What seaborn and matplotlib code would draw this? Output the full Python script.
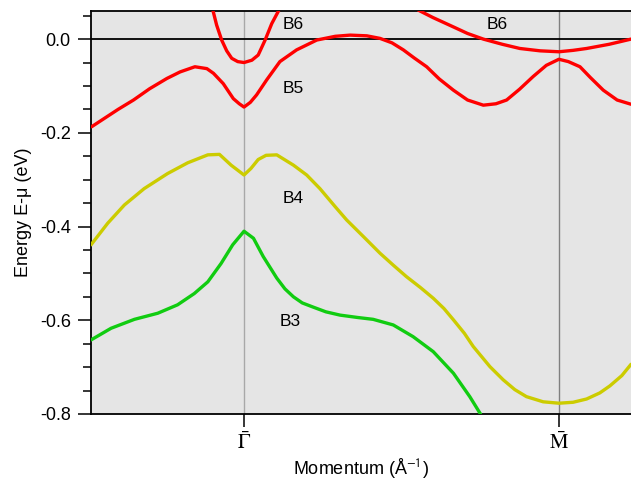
import numpy as np
import pandas as pd
import matplotlib
matplotlib.use("Agg")
import matplotlib.pyplot as plt
import seaborn as sns
from matplotlib.ticker import MultipleLocator

# band energies (k: Gamma=0, M=1)
b6a_k = [-0.099, -0.087, -0.071, -0.055, -0.039, -0.020, 0.0, 0.025, 0.045, 0.067, 0.088, 0.111]
b6a_e = [0.062, 0.030, -0.002, -0.025, -0.041, -0.048, -0.050, -0.045, -0.034, -0.002, 0.033, 0.062]

b6b_k = [0.553, 0.600, 0.665, 0.710, 0.760, 0.820, 0.876, 0.940, 1.0, 1.045, 1.088, 1.160, 1.229]
b6b_e = [0.062, 0.046, 0.026, 0.012, 0.0, -0.011, -0.020, -0.025, -0.027, -0.024, -0.020, -0.011, 0.0]

b5_k = [-0.484, -0.40, -0.351, -0.30, -0.245, -0.203, -0.156, -0.118, -0.097, -0.066,
        -0.034, -0.015, 0.0, 0.020, 0.040, 0.072, 0.114, 0.167, 0.231, 0.290,
        0.337, 0.390, 0.432, 0.470, 0.506, 0.540, 0.580, 0.620, 0.665, 0.710,
        0.760, 0.800, 0.834, 0.875, 0.918, 0.960, 1.0, 1.030, 1.067, 1.100,
        1.141, 1.185, 1.229]
b5_e = [-0.187, -0.150, -0.130, -0.106, -0.084, -0.070, -0.059, -0.063, -0.073, -0.095,
        -0.127, -0.138, -0.145, -0.135, -0.119, -0.087, -0.048, -0.023, -0.002, 0.006,
        0.0085, 0.007, 0.0015, -0.008, -0.023, -0.040, -0.059, -0.085, -0.109, -0.130,
        -0.141, -0.138, -0.130, -0.107, -0.080, -0.056, -0.043, -0.048, -0.059, -0.082,
        -0.109, -0.130, -0.139]

b4_k = [-0.486, -0.433, -0.380, -0.317, -0.243, -0.179, -0.115, -0.078, -0.041, 0.0,
        0.022, 0.045, 0.070, 0.104, 0.157, 0.199, 0.241, 0.290, 0.326, 0.380,
        0.432, 0.475, 0.516, 0.560, 0.601, 0.635, 0.665, 0.700, 0.728, 0.781,
        0.823, 0.860, 0.897, 0.950, 1.0, 1.045, 1.088, 1.130, 1.162, 1.200, 1.229]
b4_e = [-0.439, -0.393, -0.354, -0.319, -0.287, -0.264, -0.247, -0.246, -0.269, -0.290,
        -0.276, -0.257, -0.248, -0.247, -0.269, -0.290, -0.319, -0.358, -0.386, -0.422,
        -0.457, -0.483, -0.507, -0.530, -0.553, -0.575, -0.599, -0.628, -0.656, -0.699,
        -0.727, -0.748, -0.763, -0.774, -0.777, -0.775, -0.768, -0.755, -0.740, -0.718, -0.694]

b3_k = [-0.486, -0.422, -0.348, -0.274, -0.211, -0.158, -0.115, -0.073, -0.036, 0.0,
        0.030, 0.061, 0.104, 0.130, 0.157, 0.185, 0.220, 0.260, 0.305, 0.360,
        0.410, 0.474, 0.537, 0.601, 0.665, 0.717, 0.751]
b3_e = [-0.642, -0.617, -0.598, -0.585, -0.567, -0.543, -0.518, -0.479, -0.439, -0.410,
        -0.425, -0.464, -0.510, -0.533, -0.550, -0.563, -0.572, -0.582, -0.589, -0.594,
        -0.598, -0.610, -0.635, -0.667, -0.713, -0.763, -0.800]

band_names = ["B6", "B6", "B5", "B4", "B3"]
label_k = [0.156, 0.803, 0.156, 0.156, 0.146]
label_e = [0.032, 0.032, -0.105, -0.341, -0.602]

sym_k = [0.0, 1.0]
sym_labels = [r"$\bar{\Gamma}$", r"$\bar{\mathrm{M}}$"]

pieces = [("B6", "b6a", b6a_k, b6a_e), ("B6", "b6b", b6b_k, b6b_e),
          ("B5", "b5", b5_k, b5_e), ("B4", "b4", b4_k, b4_e), ("B3", "b3", b3_k, b3_e)]
df = pd.concat([pd.DataFrame({"k": k, "E": e, "band": b, "seg": s}) for b, s, k, e in pieces],
               ignore_index=True)

sns.set_style("ticks")
plt.rcParams["font.family"] = ["Liberation Sans", "DejaVu Sans"]
plt.rcParams["mathtext.fontset"] = "stix"
for key in ["text.color", "axes.labelcolor", "xtick.color", "ytick.color"]:
    plt.rcParams[key] = "black"

fig = plt.figure(figsize=(6.31, 4.82), dpi=100)
ax = fig.add_axes([0.1442, 0.1411, 0.8558, 0.8361])
ax.set_facecolor("#e5e5e5")

for xv, c in zip(sym_k, ["#a8a8a8", "#808080"]):
    ax.axvline(xv, color=c, lw=1.0, zorder=1)
ax.axhline(0, color="black", lw=1.3, zorder=1)

palette = {"B6": "#ff0000", "B5": "#ff0000", "B4": "#cccc00", "B3": "#11cc11"}
sns.lineplot(data=df, x="k", y="E", hue="band", units="seg", estimator=None, sort=False,
             palette=palette, legend=False, lw=2.4, ax=ax, zorder=3)
for ln in ax.lines:
    ln.set_solid_joinstyle("round")
    ln.set_solid_capstyle("round")

for name, xk, ye in zip(band_names, label_k, label_e):
    ax.text(xk, ye, name, fontsize=12.5, ha="center", va="center")

ax.set_xlim(-0.486, 1.229)
ax.set_ylim(-0.8, 0.06)
ax.set_xticks(sym_k)
ax.set_xticklabels(sym_labels, fontsize=15)
ax.yaxis.set_minor_locator(MultipleLocator(0.05))
ax.set_yticks([-0.8, -0.6, -0.4, -0.2, 0.0])
ax.set_yticklabels(["-0.8", "-0.6", "-0.4", "-0.2", "0.0"])
ax.tick_params(axis="y", which="major", length=9.5, width=1.1, labelsize=13, pad=5, direction="out")
ax.tick_params(axis="y", which="minor", length=6, width=1.1, direction="out")
ax.tick_params(axis="x", which="major", length=9.5, width=1.1, pad=3, direction="out")

for side in ["left", "bottom", "top"]:
    ax.spines[side].set_linewidth(1.3)
    ax.spines[side].set_color("black")
ax.spines["right"].set_visible(False)

ax.set_xlabel("Momentum (Å$^{\\mathsf{-1}}$)", fontsize=13, labelpad=2)
ax.set_ylabel("Energy E-μ (eV)", fontsize=13, labelpad=6)

fig.savefig("out.png", dpi=100)
